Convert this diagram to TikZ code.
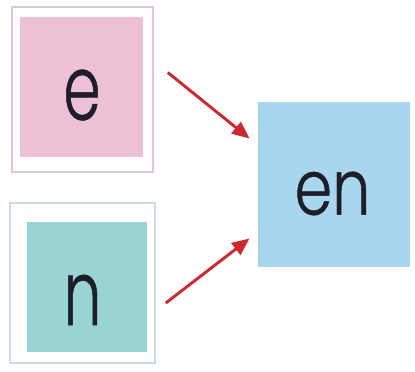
\documentclass[tikz,border=0pt]{standalone}
\usepackage{fontspec}
\setmainfont{Poppins}[UprightFont=* Light]
\newfontfamily\cardfont{Poppins}[UprightFont=* Light, FakeStretch=0.66, FakeBold=0.6]
\newfontfamily\pairfont{Poppins}[UprightFont=* Light, FakeStretch=0.78, FakeBold=0.6]
\usetikzlibrary{arrows.meta}

\definecolor{pinkfill}{RGB}{238,192,214}
\definecolor{pinkline}{RGB}{222,200,212}
\definecolor{tealfill}{RGB}{152,212,212}
\definecolor{tealline}{RGB}{204,222,218}
\definecolor{bluefill}{RGB}{168,214,238}
\definecolor{arrowred}{RGB}{206,40,48}
\definecolor{letter}{RGB}{30,30,40}

\tikzset{every picture/.style={line width=0.75pt}}

\begin{document}
\begin{tikzpicture}[x=0.75pt,y=0.75pt,yscale=-1,xscale=1,
  frame/.style={draw, line width=1.2pt, inner sep=0pt},
  card/.style={fill, inner sep=0pt},
  letterbig/.style={inner sep=0pt, text=letter, font=\cardfont\fontsize{68}{74}\selectfont},
  lettermid/.style={inner sep=0pt, text=letter, font=\pairfont\fontsize{58}{64}\selectfont},
  redarrow/.style={draw=arrowred, line width=2.2pt, -{Triangle[length=13pt,width=11pt]}}]
\useasboundingbox (0,0) rectangle (415,372);

%Shape: top card
\node [frame, draw=pinkline, minimum width=105.75pt, minimum height=123.75pt] (eframe) at (82.5,89.5) {};
\node [card, fill=pinkfill, minimum width=92.25pt, minimum height=105pt] (ecard) at (81.5,87) {};
%Shape: bottom card
\node [frame, draw=tealline, minimum width=108.75pt, minimum height=120pt] (nframe) at (82.5,283) {};
\node [card, fill=tealfill, minimum width=90pt, minimum height=97.5pt] (ncard) at (87,287) {};
%Shape: result card
\node [card, fill=bluefill, minimum width=114pt, minimum height=123.75pt] (encard) at (334,184.5) {};

% Text Node
\node [letterbig] (e) at (82,95) {e};
% Text Node
\node [letterbig] (n) at (82.5,300) {n};
% Text Node
\node [lettermid] (en) at (332.5,193.5) {en};

%Arrows
\draw [redarrow] ([shift={(14,-17)}]eframe.east) -- ([shift={(-8,-46)}]encard.west);
\draw [redarrow] ([shift={(10,20)}]nframe.east) -- ([shift={(-8,54)}]encard.west);

\end{tikzpicture}
\end{document}
